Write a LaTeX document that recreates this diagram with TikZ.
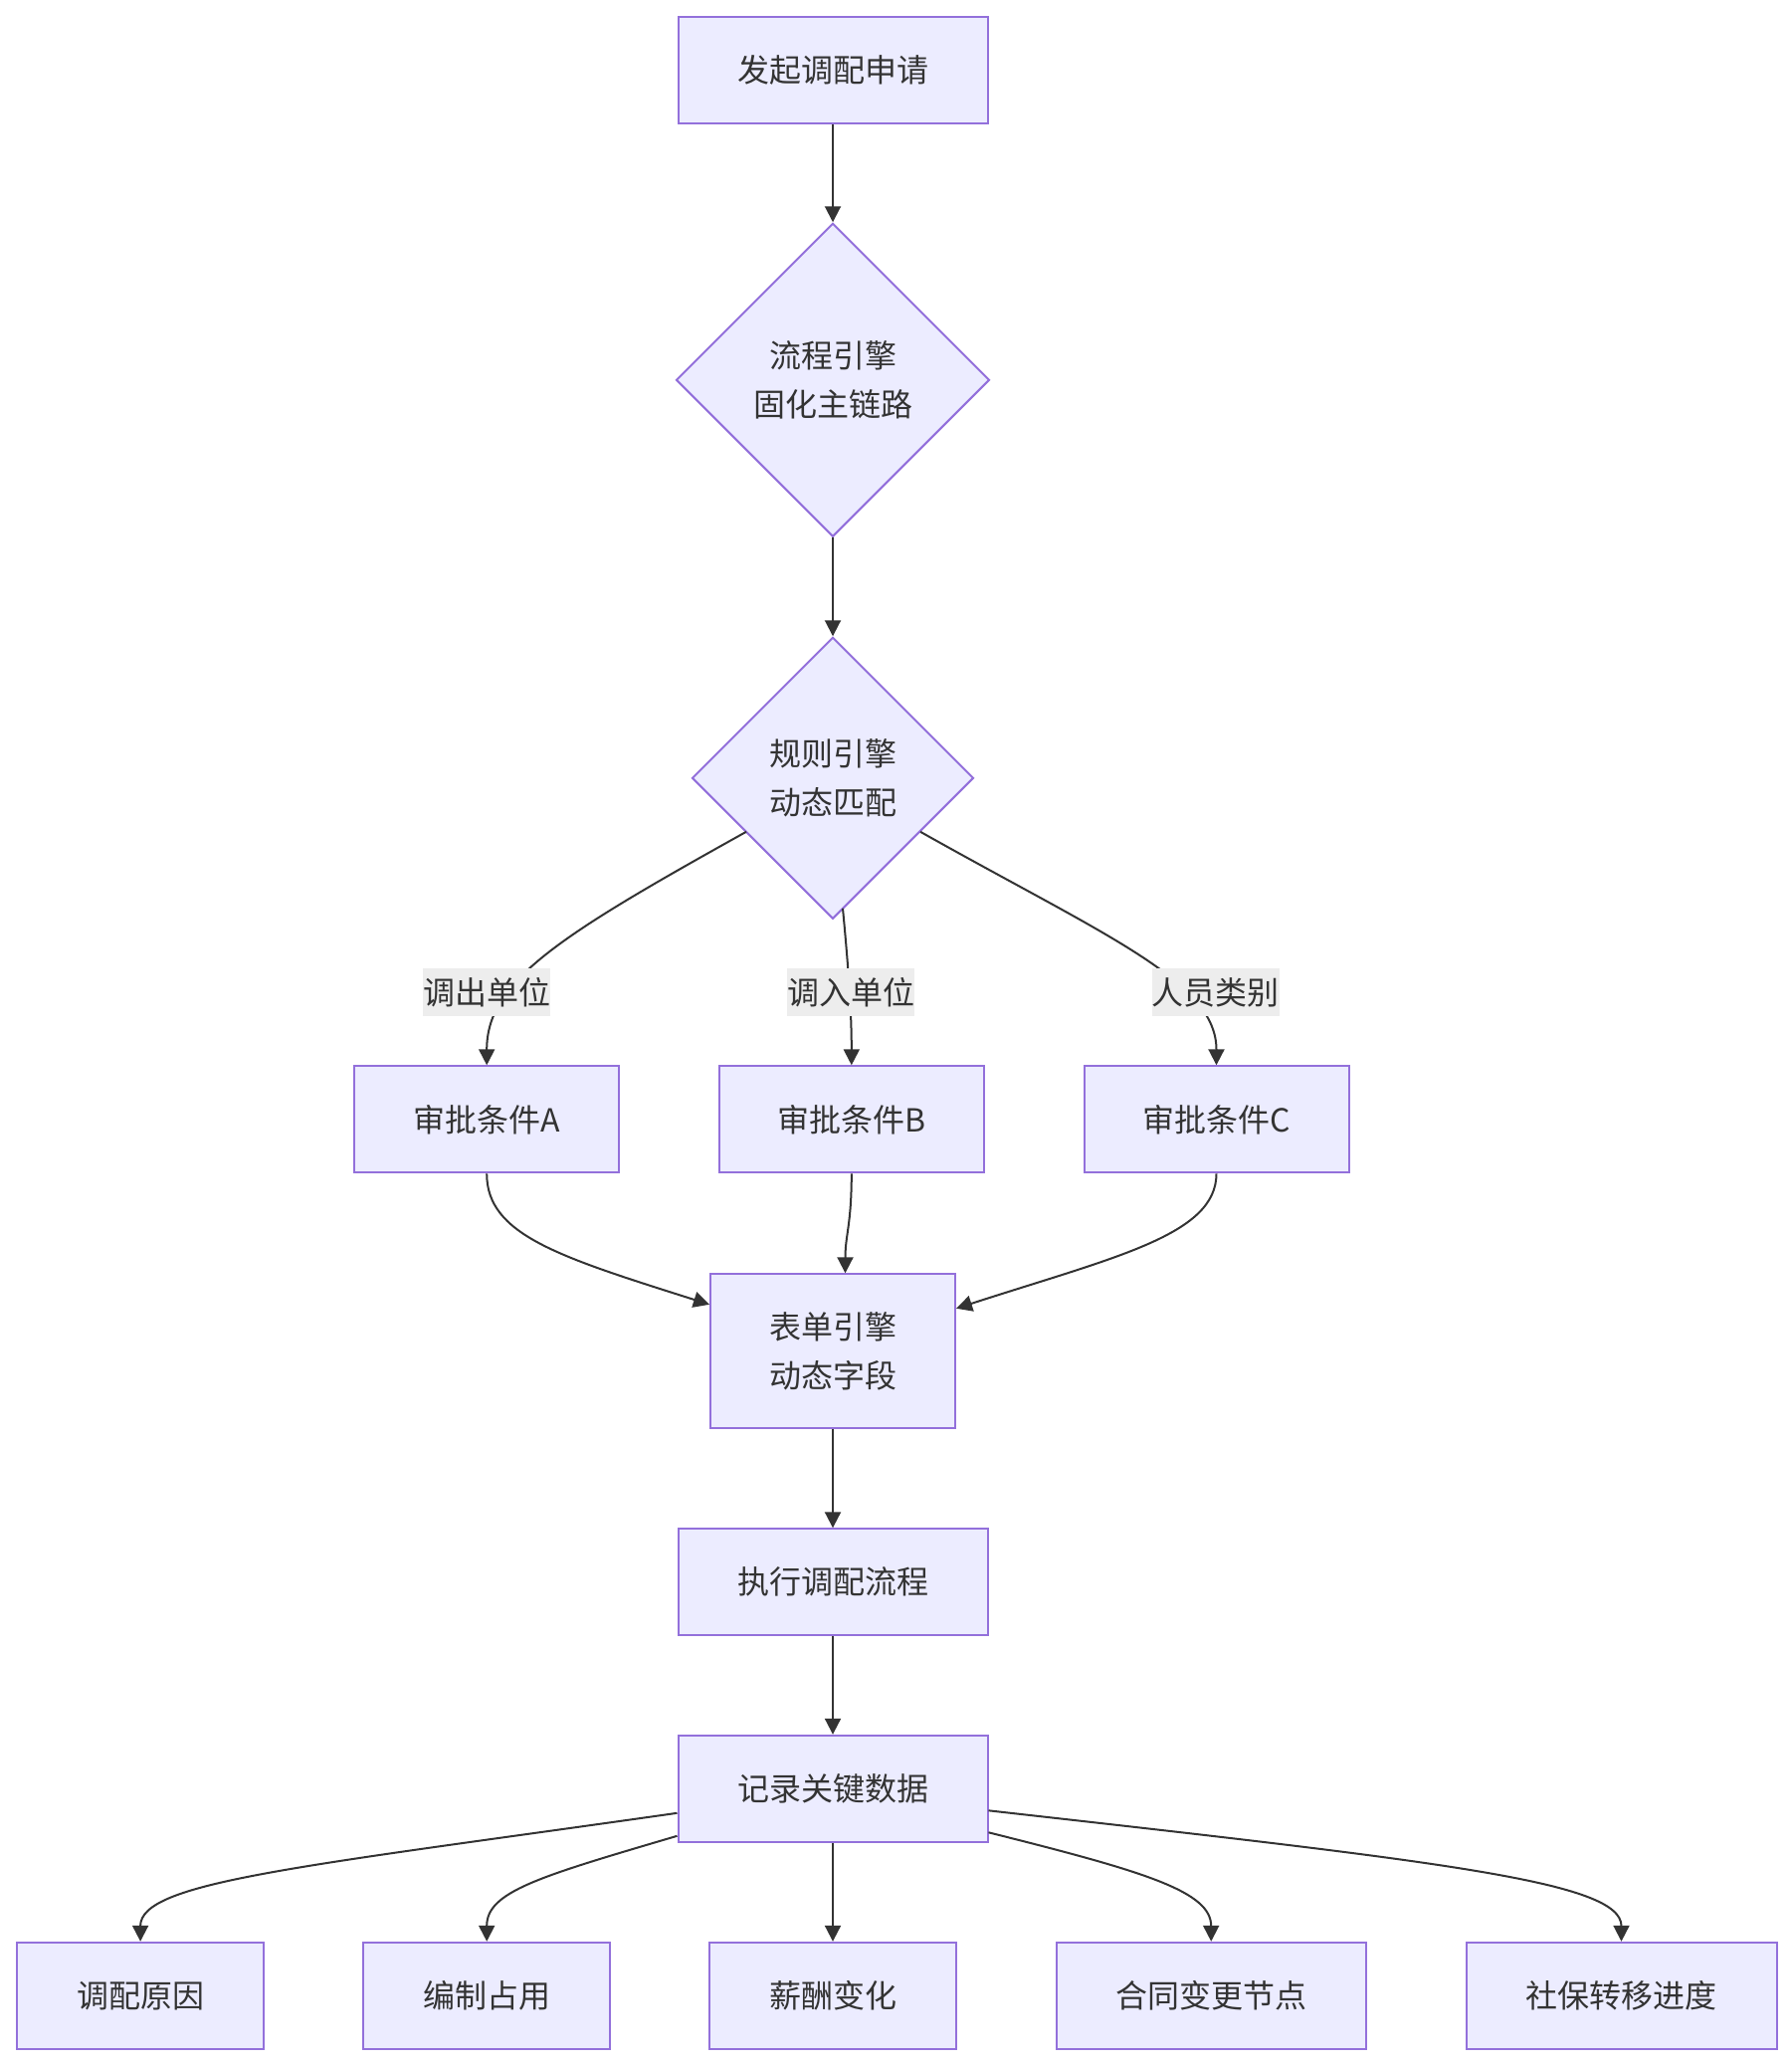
\documentclass[tikz,border=0pt]{standalone}
\usepackage{fontspec}
\newfontfamily\cjkfont{Noto Sans CJK SC}
\usetikzlibrary{shapes.geometric,arrows.meta,calc}
\definecolor{nodefill}{HTML}{ECECFF}
\definecolor{nodeline}{HTML}{9370DB}
\definecolor{txt}{HTML}{333333}
\definecolor{lblbg}{HTML}{EDEDED}
\begin{document}
\begin{tikzpicture}[x=0.5pt,y=-0.5pt,
  box/.style={draw=nodeline,fill=nodefill,line width=1pt,text=txt,
    font=\cjkfont\fontsize{16}{24.5}\selectfont,align=center,inner sep=0pt,
    minimum height=53.5pt},
  dia/.style={box,diamond,aspect=1},
  lbl/.style={fill=lblbg,text=txt,font=\cjkfont\fontsize{16}{24.5}\selectfont,
    inner sep=0pt,minimum width=64pt,minimum height=24pt},
  conn/.style={draw=txt,line width=1pt,-{Triangle[length=8pt,width=8pt]}}
]
\fill[white] (0,0) rectangle (1800,2076);
\useasboundingbox (0,0) rectangle (1800,2076);
\begin{scope}[shift={(1.5,0.8)}]
\node[box,minimum width=155.5pt] (start) at (835.5,69.5) {发起调配申请};
\node[dia,minimum width=157.5pt,minimum height=157.5pt] (d1) at (835.5,381) {流程引擎\\固化主链路};
\node[dia,minimum width=141.5pt,minimum height=141.5pt] (d2) at (835.5,781) {规则引擎\\动态匹配};
\node[box,minimum width=133pt] (ca) at (487.7,1124) {审批条件A};
\node[box,minimum width=133pt] (cb) at (854.3,1124) {审批条件B};
\node[box,minimum width=133pt] (cc) at (1221,1124) {审批条件C};
\node[box,minimum width=123pt,minimum height=77.5pt] (form) at (835.5,1357) {表单引擎\\动态字段};
\node[box,minimum width=155.5pt] (exec) at (835.5,1589) {执行调配流程};
\node[box,minimum width=155.5pt] (rec) at (835.5,1796.5) {记录关键数据};
\node[box,minimum width=124pt] (b1) at (139.6,2004.5) {调配原因};
\node[box,minimum width=124pt] (b2) at (487.7,2004.5) {编制占用};
\node[box,minimum width=124pt] (b3) at (835.5,2004.5) {薪酬变化};
\node[box,minimum width=155.5pt] (b4) at (1215.7,2004.5) {合同变更节点};
\node[box,minimum width=156pt] (b5) at (1628,2004.5) {社保转移进度};

\draw[conn] (start) -- (d1);
\draw[conn] (d1) -- (d2);
\draw[conn] ($(d2.center)+(-87,54)$) .. controls (560,940) and (487.7,985) .. (ca.north);
\draw[conn] ($(d2.center)+(10,131)$) .. controls (852,980) and (854.3,1020) .. (cb.north);
\draw[conn] ($(d2.center)+(88,54)$) .. controls (1110,940) and (1221,985) .. (cc.north);
\node[lbl] (la) at (487.7,996.6) {调出单位};
\node[lbl] (lb) at (853.6,996.6) {调入单位};
\node[lbl] (lc) at (1220,996.6) {人员类别};

\draw[conn] (ca.south) .. controls (487.7,1240) and (560,1262) .. ($(form.west)+(0,-47)$);
\draw[conn] (cb.south) .. controls (854.3,1230) and (848,1240) .. ($(form.north)+(12.5,0)$);
\draw[conn] (cc.south) .. controls (1221,1240) and (1120,1262) .. ($(form.east)+(0,-43)$);
\draw[conn] (form) -- (exec);
\draw[conn] (exec) -- (rec);

\draw[conn] ($(rec.west)+(0,24.5)$) .. controls (300,1875) and (139.6,1890) .. (b1.north);
\draw[conn] ($(rec.west)+(0,47.5)$) .. controls (540,1885) and (487.7,1900) .. (b2.north);
\draw[conn] (rec) -- (b3);
\draw[conn] ($(rec.east)+(0,44)$) .. controls (1150,1880) and (1215.7,1900) .. (b4.north);
\draw[conn] ($(rec.east)+(0,22)$) .. controls (1450,1870) and (1628,1890) .. (b5.north);
\end{scope}
\end{tikzpicture}
\end{document}
